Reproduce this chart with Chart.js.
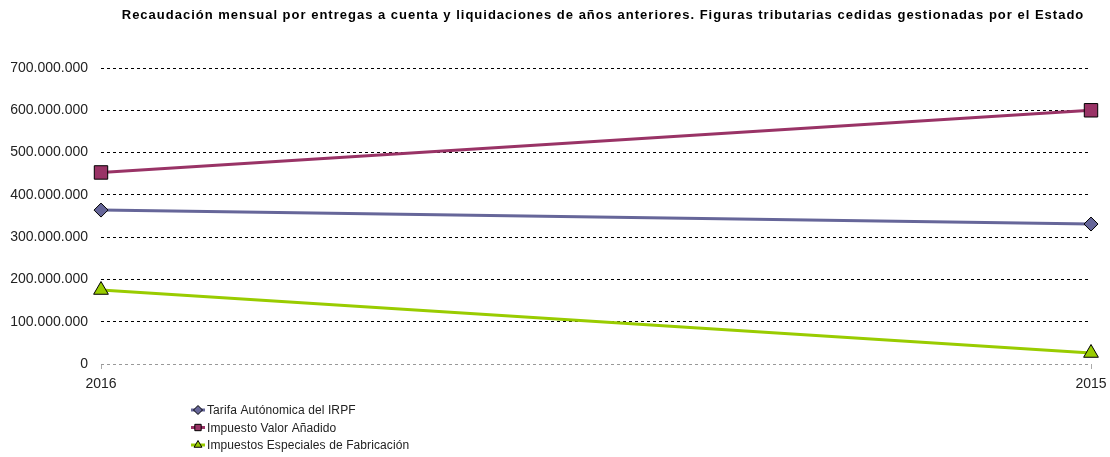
<!DOCTYPE html>
<html>
<head>
<meta charset="utf-8">
<script src="https://cdn.jsdelivr.net/npm/chart.js@4/dist/chart.umd.min.js"></script>
<style>
  html, body { margin: 0; padding: 0; background: #fff; }
  #wrap { width: 1110px; height: 457px; position: relative; }
</style>
</head>
<body>
<div id="wrap"><canvas id="myChart" width="1110" height="457"></canvas></div>
<script>
// data
const years = ['2016', '2015']
const irpf = [364000000, 331000000]
const iva = [453000000, 600000000]
const iiee = [175000000, 26000000]
const yTicks = [0, 100000000, 200000000, 300000000, 400000000, 500000000, 600000000, 700000000]

const titleText = 'Recaudación mensual por entregas a cuenta y liquidaciones de años anteriores. Figuras tributarias cedidas gestionadas por el Estado'

const fmt = v => v.toLocaleString('de-DE')
const font = '"Liberation Sans", Arial, sans-serif'

// title and vertical legend drawn on the canvas
const extras = {
  id: 'extras',
  afterDraw (chart) {
    const ctx = chart.ctx
    ctx.save()
    ctx.fillStyle = '#000'
    ctx.font = 'bold 13px ' + font
    ctx.letterSpacing = '1px'
    ctx.textAlign = 'center'
    ctx.textBaseline = 'middle'
    ctx.fillText(titleText, 603, 15)

    ctx.font = '12px ' + font
    ctx.letterSpacing = '0.1px'
    ctx.textAlign = 'left'
    chart.data.datasets.forEach((ds, i) => {
      const y = 410 + i * 17.5
      ctx.strokeStyle = ds.borderColor
      ctx.lineWidth = 3
      ctx.beginPath()
      ctx.moveTo(191, y)
      ctx.lineTo(205, y)
      ctx.stroke()
      ctx.fillStyle = ds.backgroundColor
      ctx.strokeStyle = '#000'
      ctx.lineWidth = 1
      Chart.helpers.drawPoint(ctx, { pointStyle: ds.pointStyle, rotation: 0, radius: 4.5, borderWidth: 1 }, 198, y)
      ctx.fillStyle = '#222'
      ctx.fillText(ds.label, 207, y + 1)
    })
    ctx.restore()
  }
}

const ctx = document.getElementById('myChart').getContext('2d')
new Chart(ctx, {
  type: 'line',
  data: {
    labels: years,
    datasets: [
      {
        label: 'Tarifa Autónomica del IRPF',
        data: irpf,
        borderColor: '#666699',
        backgroundColor: '#666699',
        pointBorderColor: '#000',
        pointStyle: 'rectRot',
        pointRadius: 7
      },
      {
        label: 'Impuesto Valor Añadido',
        data: iva,
        borderColor: '#993366',
        backgroundColor: '#993366',
        pointBorderColor: '#000',
        pointStyle: 'rect',
        pointRadius: 9.5
      },
      {
        label: 'Impuestos Especiales de Fabricación',
        data: iiee,
        borderColor: '#99CC00',
        backgroundColor: '#99CC00',
        pointBorderColor: '#000',
        pointStyle: 'triangle',
        pointRadius: 8.5
      }
    ]
  },
  options: {
    responsive: false,
    animation: false,
    layout: { padding: { top: 68, right: 19, bottom: 63, left: 0 } },
    elements: {
      line: { borderWidth: 3, tension: 0 },
      point: { borderWidth: 1 }
    },
    plugins: {
      legend: { display: false },
      title: { display: false },
      tooltip: { enabled: false }
    },
    scales: {
      x: {
        offset: false,
        afterFit: s => { s.height = 30; s.paddingLeft = 0; s.paddingRight = 0 },
        grid: { drawOnChartArea: false, drawTicks: true, tickLength: 5, color: '#aaa' },
        border: { display: false },
        ticks: {
          color: '#222',
          font: { family: font, size: 14 },
          padding: 7,
          maxRotation: 0
        }
      },
      y: {
        min: 0,
        max: 700000000,
        afterFit: s => { s.width = 101; s.paddingTop = 0; s.paddingBottom = 0 },
        afterBuildTicks: s => { s.ticks = yTicks.map(v => ({ value: v })) },
        border: { display: false, dash: [3, 3] },
        grid: {
          color: c => c.tick.value === 0 ? '#999' : '#000',
          lineWidth: 1,
          drawTicks: false
        },
        ticks: {
          color: '#222',
          font: { family: font, size: 14 },
          padding: 13,
          callback: v => fmt(v)
        }
      }
    }
  },
  plugins: [extras]
})
</script>
</body>
</html>
